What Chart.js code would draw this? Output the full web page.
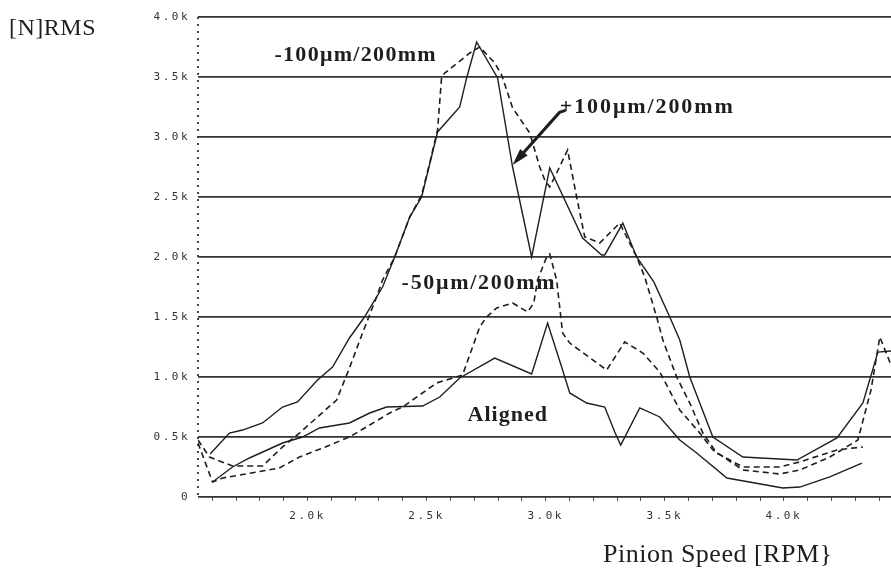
<!DOCTYPE html>
<html>
<head>
<meta charset="utf-8">
<script src="https://cdn.jsdelivr.net/npm/chart.js@4.4.0/dist/chart.umd.min.js"></script>
<style>
  html, body { margin: 0; padding: 0; background: #fff; }
  #wrap { width: 891px; height: 571px; }
</style>
</head>
<body>
<div id="wrap"><canvas id="myChart" width="891" height="571"></canvas></div>
<script>
// Pinion speed [RPM] and force [N RMS] for each misalignment case
const rpmPlus100 = [1591, 1672, 1727, 1811, 1895, 1958, 2042, 2105, 2176, 2239, 2315, 2366, 2429, 2479, 2546, 2639, 2668, 2710, 2798, 2861, 2941, 3017, 3155, 3235, 3248, 3324, 3382, 3454, 3521, 3563, 3605, 3702, 3828, 4055, 4223, 4332, 4395, 4450];
const forcePlus100 = [358, 533, 558, 617, 750, 792, 975, 1083, 1325, 1500, 1750, 2000, 2333, 2500, 3042, 3250, 3492, 3792, 3492, 2750, 2000, 2742, 2158, 2017, 2017, 2283, 2000, 1792, 1500, 1308, 1000, 500, 333, 308, 492, 783, 1208, 1217];

const rpmMinus100 = [1540, 1588, 1685, 1811, 1895, 1966, 2122, 2176, 2231, 2290, 2315, 2366, 2429, 2479, 2513, 2546, 2563, 2576, 2681, 2723, 2786, 2815, 2861, 2933, 2975, 2996, 3017, 3046, 3092, 3130, 3164, 3227, 3311, 3382, 3416, 3466, 3492, 3550, 3605, 3660, 3718, 3828, 3983, 4067, 4223, 4332];
const forceMinus100 = [475, 333, 258, 258, 417, 533, 808, 1075, 1367, 1667, 1808, 2000, 2333, 2517, 2783, 3058, 3500, 3533, 3700, 3750, 3617, 3517, 3242, 3033, 2750, 2642, 2583, 2700, 2892, 2500, 2167, 2117, 2283, 2000, 1833, 1500, 1308, 1000, 783, 533, 367, 250, 250, 292, 392, 417];

const rpmMinus50 = [1540, 1601, 1643, 1786, 1882, 1966, 2063, 2176, 2261, 2345, 2399, 2542, 2651, 2723, 2752, 2794, 2861, 2924, 2950, 2966, 3004, 3017, 3046, 3071, 3101, 3256, 3332, 3408, 3479, 3563, 3647, 3702, 3828, 3983, 4067, 4193, 4311, 4366, 4403, 4450];
const forceMinus50 = [450, 125, 158, 208, 242, 333, 408, 500, 600, 700, 750, 950, 1017, 1417, 1500, 1575, 1617, 1542, 1617, 1808, 2000, 2025, 1808, 1367, 1283, 1058, 1292, 1200, 1042, 725, 533, 392, 225, 192, 225, 333, 475, 892, 1333, 1100];

const rpmAligned = [1601, 1685, 1756, 1895, 1979, 2050, 2176, 2261, 2332, 2483, 2555, 2639, 2786, 2941, 3008, 3067, 3101, 3172, 3248, 3290, 3315, 3395, 3479, 3563, 3634, 3761, 3996, 4067, 4193, 4328];
const forceAligned = [125, 250, 325, 450, 500, 575, 617, 700, 750, 758, 833, 992, 1158, 1025, 1450, 1083, 867, 783, 750, 542, 433, 742, 667, 475, 367, 158, 75, 83, 167, 283];

// tick labels
const xTickValues = [2000, 2500, 3000, 3500, 4000];
const xTickLabels = ["2.0k", "2.5k", "3.0k", "3.5k", "4.0k"];
const yTickLabels = ["0", "0.5k", "1.0k", "1.5k", "2.0k", "2.5k", "3.0k", "3.5k", "4.0k"];

function toPoints(xs, ys) {
  return xs.map((x, i) => ({ x: x, y: ys[i] }));
}

// minor tick marks every 100 rpm along the bottom
const xTickMarks = [];
for (let v = 1600; v <= 4400; v += 100) xTickMarks.push(v);

// text labels placed in data units
const notes = [
  { text: "-100\u03bcm/200mm", rpm: 1861, force: 3683, gap: "1.3px" },
  { text: "+100\u03bcm/200mm", rpm: 3059, force: 3250, gap: "1.9px" },
  { text: "-50\u03bcm/200mm", rpm: 2395, force: 1783, gap: "1.7px" },
  { text: "Aligned", rpm: 2672, force: 683, gap: "1px" },
];
const arrowFrom = { rpm: 3058, force: 3205 };
const arrowTo = { rpm: 2861, force: 2767 };

const ink = "#1e1e1e";

const spacingPlugin = {
  id: "spacing",
  beforeDraw(chart) {
    chart.ctx.letterSpacing = "2.5px";
  },
  beforeDatasetsDraw(chart) {
    const ctx = chart.ctx;
    ctx.letterSpacing = "0px";
    // dotted left axis
    const a = chart.chartArea;
    ctx.save();
    ctx.strokeStyle = "#444";
    ctx.lineWidth = 2;
    ctx.setLineDash([2, 5]);
    ctx.beginPath();
    ctx.moveTo(a.left, a.top);
    ctx.lineTo(a.left, a.bottom);
    ctx.stroke();
    ctx.restore();
  },
};

const notesPlugin = {
  id: "notes",
  afterDraw(chart) {
    const ctx = chart.ctx;
    const xs = chart.scales.x;
    const ys = chart.scales.y;
    ctx.save();
    ctx.fillStyle = ink;
    ctx.textBaseline = "middle";
    ctx.textAlign = "left";
    ctx.font = "bold 22px 'Liberation Serif'";
    notes.forEach((n) => {
      ctx.letterSpacing = n.gap;
      ctx.fillText(n.text, xs.getPixelForValue(n.rpm), ys.getPixelForValue(n.force));
    });

    // arrow pointing to the +100 curve
    const x1 = xs.getPixelForValue(arrowFrom.rpm);
    const y1 = ys.getPixelForValue(arrowFrom.force);
    const x2 = xs.getPixelForValue(arrowTo.rpm);
    const y2 = ys.getPixelForValue(arrowTo.force);
    const ang = Math.atan2(y2 - y1, x2 - x1);
    ctx.strokeStyle = ink;
    ctx.lineWidth = 3;
    ctx.beginPath();
    ctx.moveTo(x1 + 6, y1 - 2);
    ctx.lineTo(x1, y1);
    ctx.lineTo(x2 - 10 * Math.cos(ang), y2 - 10 * Math.sin(ang));
    ctx.stroke();
    ctx.beginPath();
    ctx.moveTo(x2, y2);
    ctx.lineTo(x2 - 17 * Math.cos(ang) + 5 * Math.sin(ang), y2 - 17 * Math.sin(ang) - 5 * Math.cos(ang));
    ctx.lineTo(x2 - 17 * Math.cos(ang) - 5 * Math.sin(ang), y2 - 17 * Math.sin(ang) + 5 * Math.cos(ang));
    ctx.closePath();
    ctx.fill();

    // axis titles
    ctx.letterSpacing = "0.5px";
    ctx.font = "24px 'Liberation Serif'";
    ctx.fillText("[N]RMS", 9, 29);
    ctx.font = "26px 'Liberation Serif'";
    ctx.fillText("Pinion Speed [RPM}", 603, 555);
    ctx.restore();
  },
};

function lineSet(label, xs, ys, dashed) {
  return {
    label: label,
    data: toPoints(xs, ys),
    borderColor: ink,
    borderWidth: dashed ? 1.6 : 1.4,
    borderDash: dashed ? [6, 4] : [],
    pointRadius: 0,
    tension: 0,
    fill: false,
  };
}

var ctx = document.getElementById("myChart").getContext("2d");
var myChart = new Chart(ctx, {
  type: "line",
  data: {
    datasets: [
      lineSet("+100\u03bcm/200mm", rpmPlus100, forcePlus100, false),
      lineSet("-100\u03bcm/200mm", rpmMinus100, forceMinus100, true),
      lineSet("-50\u03bcm/200mm", rpmMinus50, forceMinus50, true),
      lineSet("Aligned", rpmAligned, forceAligned, false),
    ],
  },
  options: {
    responsive: false,
    animation: false,
    devicePixelRatio: 1,
    layout: { padding: { top: 17, right: 0, left: 0, bottom: 0 } },
    plugins: {
      legend: { display: false },
      tooltip: { enabled: false },
    },
    scales: {
      x: {
        type: "linear",
        min: 1540,
        max: 4450,
        afterFit(scale) {
          scale.height = 74;
        },
        afterBuildTicks(scale) {
          scale.ticks = xTickMarks.map((v) => ({ value: v }));
        },
        border: { display: false },
        grid: {
          drawOnChartArea: false,
          drawTicks: true,
          tickLength: 4,
          color: "#555",
          lineWidth: 1,
        },
        ticks: {
          autoSkip: false,
          maxRotation: 0,
          padding: 9,
          color: "#333",
          font: { family: "'DejaVu Sans Mono'", size: 11 },
          callback: (v) => {
            const i = xTickValues.indexOf(v);
            return i >= 0 ? xTickLabels[i] : "";
          },
        },
      },
      y: {
        min: 0,
        max: 4000,
        afterFit(scale) {
          scale.width = 198;
        },
        border: { display: false },
        grid: {
          drawTicks: false,
          color: "#333",
          lineWidth: 1.8,
        },
        ticks: {
          stepSize: 500,
          padding: 8,
          color: "#333",
          font: { family: "'DejaVu Sans Mono'", size: 11 },
          callback: (v, i) => yTickLabels[i],
        },
      },
    },
  },
  plugins: [spacingPlugin, notesPlugin],
});
</script>
</body>
</html>
